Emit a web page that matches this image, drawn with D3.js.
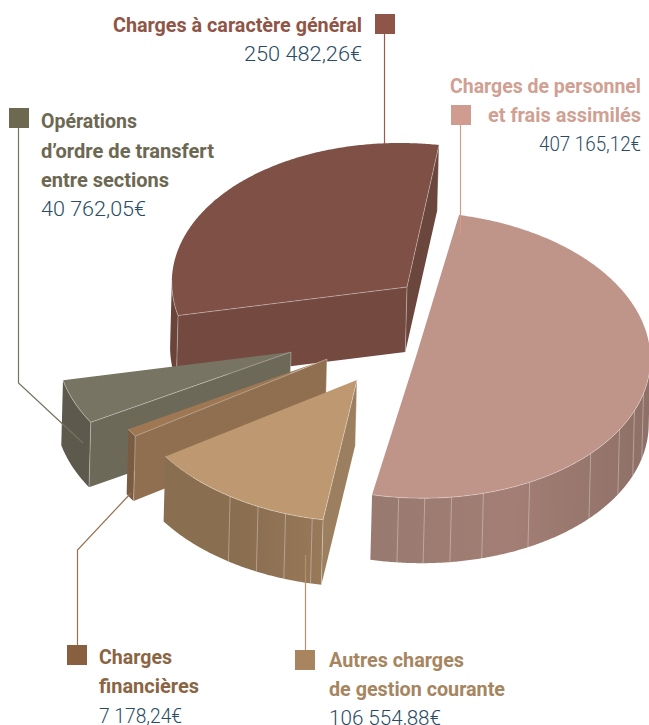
<!DOCTYPE html>
<html><head><meta charset="utf-8">
<style>html,body{margin:0;padding:0;background:#fff}svg{display:block}</style>
<script src="https://cdn.jsdelivr.net/npm/d3@7"></script>
</head><body><svg id="c" width="649" height="725"></svg>
<script>
// Data, in pie order (clockwise from the top of the disc)
const categories = ["Charges de personnel et frais assimilés","Autres charges de gestion courante","Charges financières","Opérations d'ordre de transfert entre sections","Charges à caractère général"];
const values = [407165.12,106554.88,7178.24,40762.05,250482.26];
// Label lines
const labelLines = [["Charges de personnel","et frais assimilés"],["Autres charges","de gestion courante"],["Charges","financières"],["Opérations","d’ordre de transfert","entre sections"],["Charges à caractère général"]];

// Style and layout
const topColors   = ["#BF9489","#BE9870","#9F7853","#787463","#7E5046"];
const arcColors   = [["#987A70","#A37E74","#8E7067"],["#8A6E50","#8A6E50","#98795A"],["#7B5C42","#7B5C42","#7B5C42"],["#5D5A4D","#5D5A4D","#5D5A4D"],["#6A443A","#6A443A","#6A443A"]];
const startFace   = ["#A07C72","#9C7F5E","#8F6F50","#6D6959","#744A40"];
const endFace     = ["#A07C72","#9C7F5E","#8F6F50","#6D6959","#6A463C"];
const apexX = [416.5,357,327,291,407];
const apexY = [355,380,359,352,287];
const axisU = [[42.5,-140],[32,-140],[32,-141],[32,-141],[32,-142]];
const axisV = [[230,30],[230,24],[230,24],[232,24],[233,24]];
const facets = [[93.5,100.8,109.3,121.4,140.6,152.9,160.9,167.5,173.9],[183.2,190,197.3,205.2],[],[],[]];
const drawOrder = [4,3,2,1,0];
const depth = [-1.7,65];
const textColors = ["#D0A093","#A68560","#8A6544","#6C6852","#8F5547"];
const squareColors = ["#D09C8F","#A9855F","#885F3F","#6D6850","#8F5548"];
const valueColor = "#294C64";
const squareX = [451,295,67,9,375], squareY = [105,650,645,108,14];
const textX = [641,329,99,41,362], textAnchor = ["end","start","start","start","end"];
const lineBase = [[93,122],[667,696],[664,693],[128,157.5,186.7],[32]];
const lineWidth = [[191,153],[135,176],[73,100],[96,173,128],[249]];
const valueBase = [151,725,723,216,61], valueWidth = [102,112,83,105,118];
const leaders = [[[460.5,125],[460.5,234]],[[305.5,650],[305.5,555]],[[77.5,645],[77.5,550],[131,493]],[[18.5,128],[18.5,383],[83,443]],[[384.5,34],[384.5,144]]];
const leaderColors = ["#D09C8F","#B0906E","#96714F","#76725F","#985A4C"];

const svg = d3.select("#c");
const defs = svg.append("defs");
const fmt = d3.formatLocale({decimal:",",thousands:" ",grouping:[3],currency:["","€"]}).format("$,.2f");
const pieLayout = d3.pie().sort(null).startAngle(0).endAngle(2*Math.PI)(values);
const deg = d3.scaleLinear().domain([0,360]).range([0,2*Math.PI]);
const poly = d3.line();

function run(i){
  const a=pieLayout[i], ax=apexX[i], ay=apexY[i], u=axisU[i], v=axisV[i];
  const P=t=>[ax+u[0]*Math.cos(t)+v[0]*Math.sin(t), ay+u[1]*Math.cos(t)+v[1]*Math.sin(t)];
  const down=p=>[p[0]+depth[0],p[1]+depth[1]];
  const n=Math.ceil((a.endAngle-a.startAngle)/deg(0.5));
  const arcPts=d3.range(n+1).map(k=>P(a.startAngle+(a.endAngle-a.startAngle)*k/n));
  const apex=[ax,ay];
  const faces=(p,q)=>(q[1]-p[1])*depth[0]-(q[0]-p[0])*depth[1]>0;
  const g=svg.append("g");
  const light=(pts)=>g.append("path").attr("d",poly(pts)).attr("fill","none").attr("stroke","#fff").attr("stroke-opacity",.42).attr("stroke-width",.8);
  const edges=[];
  // radial face at the start of the slice
  const s=arcPts[0], e=arcPts[n];
  if(faces(apex,s)){
    g.append("path").attr("d",poly([apex,s,down(s),down(apex)])+"Z").attr("fill",startFace[i]);
    edges.push([apex,s]);
  }
  if(faces(e,apex)){
    g.append("path").attr("d",poly([e,apex,down(apex),down(e)])+"Z").attr("fill",endFace[i]);
    edges.push([e,apex]);
  }
  // outer rim: visible runs
  let runs=[],cur=[];
  for(let k=0;k<n;k++){
    if(faces(arcPts[k],arcPts[k+1])){ if(!cur.length)cur.push(arcPts[k]); cur.push(arcPts[k+1]); }
    else if(cur.length){runs.push(cur);cur=[];}
  }
  if(cur.length)runs.push(cur);
  const gid="rim"+i;
  const x0=d3.min(runs.flat(),d=>d[0]), x1=d3.max(runs.flat(),d=>d[0]);
  const gr=defs.append("linearGradient").attr("id",gid).attr("gradientUnits","userSpaceOnUse").attr("x1",x0||0).attr("x2",x1||1).attr("y1",0).attr("y2",0);
  arcColors[i].forEach((c,k)=>gr.append("stop").attr("offset",k/2).attr("stop-color",c));
  runs.forEach(r=>{
    g.append("path").attr("d",poly(r.concat(r.slice().reverse().map(down)))+"Z").attr("fill",`url(#${gid})`);
    edges.push(r);
  });
  facets[i].forEach(t=>{const p=P(deg(t));light([p,down(p)]);});
  // vertical edges
  if(faces(apex,s)||faces(e,apex)) light([apex,down(apex)]);
  if(faces(apex,s)) light([s,down(s)]);
  if(faces(e,apex)) light([e,down(e)]);
  // top
  g.append("path").attr("d",poly([apex].concat(arcPts))+"Z").attr("fill",topColors[i]);
  edges.forEach(light);
}
drawOrder.forEach(run);

// leader lines
leaders.forEach((l,i)=>svg.append("path").attr("d",poly(l)).attr("fill","none").attr("stroke",leaderColors[i]).attr("stroke-width",1.2));

// legend
categories.forEach((c,i)=>{
  svg.append("rect").attr("x",squareX[i]).attr("y",squareY[i]).attr("width",20).attr("height",20).attr("fill",squareColors[i]);
  labelLines[i].forEach((t,k)=>{
    svg.append("text").text(t).attr("x",textX[i]).attr("y",lineBase[i][k])
      .attr("text-anchor",textAnchor[i]).attr("font-family","Roboto").attr("font-weight",700).attr("font-size",20)
      .attr("fill",textColors[i]).attr("textLength",lineWidth[i][k]).attr("lengthAdjust","spacingAndGlyphs");
  });
  svg.append("text").text(fmt(values[i])).attr("x",textX[i]).attr("y",valueBase[i])
    .attr("text-anchor",textAnchor[i]).attr("font-family","Roboto").attr("font-weight",300).attr("font-size",21)
    .attr("fill",valueColor).attr("textLength",valueWidth[i]).attr("lengthAdjust","spacingAndGlyphs");
});
</script></body></html>
